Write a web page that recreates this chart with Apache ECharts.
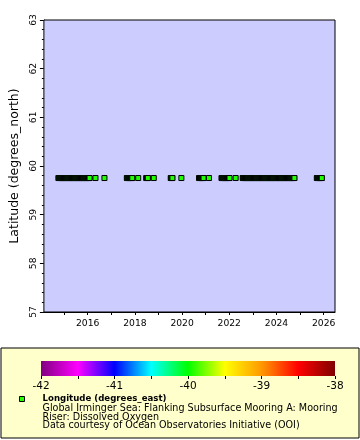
<!DOCTYPE html>
<html><head><meta charset="utf-8">
<script src="https://cdn.jsdelivr.net/npm/echarts@6/dist/echarts.min.js"></script>
<style>html,body{margin:0;padding:0;background:#fff}#c{width:360px;height:440px}</style>
</head><body><div id="c"></div>
<script>
// decimal years of the observations (dense runs appear as black bars)
const times = [
 2014.76,2014.78,2014.80,2014.82,2014.84,2014.86,2014.88,2014.90,2014.92,2014.94,2014.96,2014.98,
 2015.00,2015.02,2015.04,2015.06,2015.08,2015.10,2015.12,2015.14,2015.16,2015.18,2015.20,2015.22,2015.24,2015.26,2015.28,2015.30,2015.32,2015.34,2015.36,2015.38,2015.40,2015.42,2015.44,2015.46,2015.48,2015.50,
 2015.52,2015.54,2015.56,2015.58,2015.60,2015.62,2015.64,2015.66,2015.68,2015.70,2015.72,2015.74,2015.76,2015.78,2015.80,2015.82,2015.84,2015.86,2015.88,2015.90,2015.92,2015.94,2015.96,2015.98,
 2016.00,2016.02,2016.04,2016.06,2016.08,
 2016.33,2016.71,
 2017.66,2017.68,2017.70,2017.72,2017.74,2017.76,2017.78,2017.80,2017.82,2017.84,2017.86,2017.88,2017.89,2018.14,
 2018.48,2018.50,2018.52,2018.54,2018.55,2018.80,
 2019.52,2019.54,2019.56,2019.58,2019.59,2019.97,
 2020.72,2020.74,2020.76,2020.78,2020.80,2020.82,2020.84,2020.86,2020.88,2020.90,2020.91,2021.14,
 2021.67,2021.69,2021.71,2021.73,2021.75,2021.77,2021.79,2021.81,2021.83,2021.85,2021.87,2021.89,2021.91,2021.93,2021.95,2021.97,2021.99,2022.01,2022.27,
 2022.57,2022.59,2022.61,2022.63,2022.65,2022.67,2022.69,2022.71,2022.73,2022.75,2022.77,2022.79,2022.81,2022.83,2022.85,2022.87,2022.89,2022.91,2022.93,2022.95,2022.97,2022.99,
 2023.01,2023.03,2023.05,2023.07,2023.09,2023.11,2023.13,2023.15,2023.17,2023.19,2023.21,2023.23,2023.25,2023.27,2023.29,2023.31,2023.33,2023.35,2023.37,2023.39,2023.41,2023.43,2023.45,2023.47,2023.49,
 2023.51,2023.53,2023.55,2023.57,2023.59,2023.61,2023.63,2023.65,2023.67,2023.69,2023.71,2023.73,2023.75,2023.77,2023.79,2023.81,2023.83,2023.85,2023.87,2023.89,2023.91,2023.93,2023.95,2023.97,2023.99,
 2024.01,2024.03,2024.05,2024.07,2024.09,2024.11,2024.13,2024.15,2024.17,2024.19,2024.21,2024.23,2024.25,2024.27,2024.29,2024.31,2024.33,2024.35,2024.37,2024.39,2024.41,2024.43,2024.45,2024.47,2024.49,
 2024.51,2024.53,2024.55,2024.57,2024.59,2024.61,2024.63,2024.65,2024.67,2024.69,2024.71,2024.73,2024.75,2024.76,
 2025.71,2025.73,2025.75,2025.77,2025.79,2025.81,2025.83,2025.85,2025.87,2025.89,2025.91,2025.92
];
const latitude = 59.753;     // degrees_north, fixed mooring
const longitude = -39.94;    // degrees_east, drives colour
const xTickYears = [2015,2016,2017,2018,2019,2020,2021,2022,2023,2024,2025,2026];
const xLabelYears = [2016,2018,2020,2022,2024,2026];
const colorStops = ['#800080','#ff00ff','#0000ff','#00ffff','#00ff00','#ffff00','#ff9900','#ff0000','#800000'];
const cbarMin = -42, cbarMax = -38;
const legendLines = [
 'Global Irminger Sea: Flanking Subsurface Mooring A: Mooring',
 'Riser: Dissolved Oxygen',
 'Data courtesy of Ocean Observatories Initiative (OOI)'
];
const legendTitle = 'Longitude (degrees_east)';

const FONT = 'DejaVu Sans';
const data = times.map(t => [t, latitude, longitude]);
const grad = new echarts.graphic.LinearGradient(0,0,1,0,
  colorStops.map((c,i)=>({offset:i/(colorStops.length-1), color:c})));

const chart = echarts.init(document.getElementById('c'), null, {renderer:'canvas'});
chart.setOption({
  animation:false,
  textStyle:{fontFamily:FONT},
  grid:[
    {left:37, top:20, width:298, height:292, show:true, backgroundColor:'#ccccff', borderColor:'#000', borderWidth:1, z:1},
    {left:41, top:361, width:294, height:15, show:true, backgroundColor:grad, borderWidth:0, z:5}
  ],
  xAxis:[
    {gridIndex:0, type:'value', min:2014.145, max:2026.48,
     axisLine:{show:true,onZero:false,lineStyle:{color:'#000',width:1}},
     axisTick:{show:true,length:3,customValues:xTickYears,lineStyle:{color:'#000'}},
     splitLine:{show:false},
     axisLabel:{show:true, fontSize:9.2, color:'#000', fontFamily:FONT, margin:7,
       customValues:xLabelYears, formatter:v=>String(v)}},
    {gridIndex:1, type:'value', min:cbarMin, max:cbarMax, interval:1,
     axisLine:{show:false}, splitLine:{show:false},
     axisTick:{show:true,length:3,lineStyle:{color:'#000'}},
     minorTick:{show:true,splitNumber:2,length:3,lineStyle:{color:'#000'}},
     axisLabel:{fontSize:10.5, color:'#000', fontFamily:FONT, margin:5}}
  ],
  yAxis:[
    {gridIndex:0, type:'value', min:57, max:63, interval:1,
     name:'Latitude (degrees_north)', nameLocation:'middle', nameGap:22,
     nameTextStyle:{fontSize:12.5, color:'#000', fontFamily:FONT},
     axisLine:{show:true,onZero:false,lineStyle:{color:'#000'}},
     axisTick:{show:true,length:4,lineStyle:{color:'#000'}},
     minorTick:{show:true,splitNumber:5,length:2,lineStyle:{color:'#000'}},
     splitLine:{show:false},
     axisLabel:{rotate:90, fontSize:9.2, color:'#000', fontFamily:FONT, margin:6}},
    {gridIndex:1, type:'value', show:false, min:0, max:1}
  ],
  visualMap:{show:false, type:'continuous', min:cbarMin, max:cbarMax, dimension:2, seriesIndex:0,
    inRange:{color:colorStops}},
  series:[{
    type:'scatter', xAxisIndex:0, yAxisIndex:0, data:data, symbol:'rect', symbolSize:5,
    itemStyle:{borderColor:'#000', borderWidth:1, opacity:1}, z:10
  }],
  graphic:[
    {type:'rect', z:-100, shape:{x:1,y:348,width:358,height:90}, style:{fill:'#ffffcc', stroke:'#000', lineWidth:1}},
    {type:'rect', z:100, shape:{x:19.5,y:396.5,width:5,height:5}, style:{fill:'#24ff00', stroke:'#000', lineWidth:1}},
    {type:'text', z:100, x:42.5, y:399, style:{text:legendTitle, font:'bold 8.6px "DejaVu Sans"', fill:'#000', textVerticalAlign:'middle'}},
    {type:'text', z:100, x:42.5, y:408.3, style:{text:legendLines[0], font:'9.6px "DejaVu Sans"', fill:'#000', textVerticalAlign:'middle'}},
    {type:'text', z:100, x:42.5, y:417.3, style:{text:legendLines[1], font:'9.6px "DejaVu Sans"', fill:'#000', textVerticalAlign:'middle'}},
    {type:'text', z:100, x:42.5, y:425.9, style:{text:legendLines[2], font:'9.6px "DejaVu Sans"', fill:'#000', textVerticalAlign:'middle'}}
  ]
});
</script></body></html>
